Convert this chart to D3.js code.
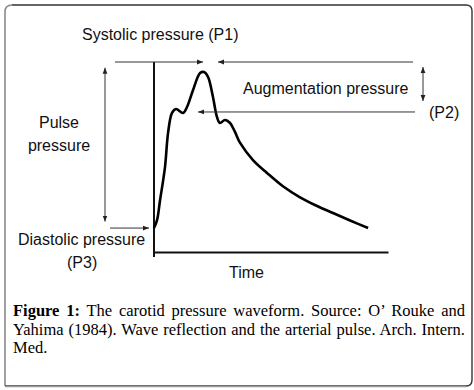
<!DOCTYPE html>
<html>
<head>
<meta charset="utf-8">
<script src="https://cdn.jsdelivr.net/npm/d3@7"></script>
<style>
  body { margin: 0; background: #fff; }
  #wrap { position: relative; width: 474px; height: 390px; }
  svg { position: absolute; left: 0; top: 0; }
  .lbl { font-family: "Liberation Sans", Arial, sans-serif; font-size: 16px; fill: #111; }
  #caption {
    position: absolute; left: 13px; top: 302px; width: 452px;
    font-family: "Liberation Serif", "Times New Roman", serif; font-size: 16.5px;
    line-height: 18.6px; color: #000;
  }
  #caption div { text-align: justify; text-align-last: justify; white-space: nowrap; }
  #caption div.last { text-align-last: left; }
</style>
</head>
<body>
<div id="wrap">
  <svg id="chart" width="474" height="390"></svg>
  <div id="caption"></div>
</div>
<script>
// waveform, time in arbitrary units, pressure in % of axis height
const time = [0, 1.3, 2.6, 4.7, 6.0, 7.7, 9.4, 12.4, 14.1, 16.7, 19.7, 21.4, 23.1, 25.2, 26.9,
  28.2, 30.3, 32.5, 34.6, 36.8, 42.3, 48.3, 55.1, 62.4, 69.7, 76.5, 83.8, 91.5];
const pressure = [12.6, 16.8, 27.4, 44.7, 62.6, 73.2, 75.3, 73.2, 76.3, 85.3, 94.2, 94.7, 92.1, 81.6, 71.1,
  67.9, 69.5, 67.9, 63.2, 57.4, 48.4, 41.6, 34.6, 28.8, 24.2, 20.5, 16.6, 12.6];

// reference levels (same units)
const systolic = 100;
const inflection = 73.7;
const diastolic = 12.6;
const pulseTop = 97;
const pulseBottom = 16;

const captionLines = [
  ["Figure 1:", " The carotid pressure waveform. Source: O\u2019 Rouke and"],
  ["", "Yahima (1984). Wave reflection and the arterial pulse. Arch. Intern."],
  ["", "Med."]
];

const svg = d3.select("#chart");

const x = d3.scaleLinear().domain([0, 100]).range([154, 388]);
const y = d3.scaleLinear().domain([0, 100]).range([252, 62]);

// panel border
svg.append("path")
  .attr("d", "M5,386 L5,12 Q5,5 12,5")
  .attr("fill", "none").attr("stroke", "#8a8a8a").attr("stroke-width", 1.6);
svg.append("path")
  .attr("d", "M12,5 L466,5 Q472,5 472,11 L472,380 Q472,386 466,386 L5,386")
  .attr("fill", "none").attr("stroke", "#333").attr("stroke-width", 1.4);
svg.append("path")
  .attr("d", "M5,386.5 L466,386.5")
  .attr("fill", "none").attr("stroke", "#999").attr("stroke-width", 1.6);

// arrow markers
const defs = svg.append("defs");
defs.append("marker")
  .attr("id", "head")
  .attr("viewBox", "0 0 10 10")
  .attr("refX", 10).attr("refY", 5)
  .attr("markerWidth", 6).attr("markerHeight", 6)
  .attr("markerUnits", "userSpaceOnUse")
  .attr("orient", "auto-start-reverse")
  .append("path").attr("d", "M0,1 L10,5 L0,9 Z").attr("fill", "#222");

// axes without ticks
svg.append("g")
  .attr("transform", `translate(${x(0)},0)`)
  .call(d3.axisLeft(y).tickValues([]).tickSizeOuter(0))
  .call(g => g.select(".domain").attr("stroke", "#111").attr("stroke-width", 2)
    .attr("d", `M0,${y(100)}V${y(-2.6)}`));
svg.append("g")
  .attr("transform", `translate(0,${y(0)})`)
  .call(d3.axisBottom(x).tickValues([]).tickSizeOuter(0))
  .call(g => g.select(".domain").attr("stroke", "#111").attr("stroke-width", 2));

// waveform
const line = d3.line()
  .x((d, i) => x(time[i]))
  .y(d => y(d))
  .curve(d3.curveCatmullRom.alpha(0.5));
svg.append("path")
  .datum(pressure)
  .attr("d", line)
  .attr("fill", "none")
  .attr("stroke", "#000")
  .attr("stroke-width", 2.6)
  .attr("stroke-linejoin", "round");

function arrow(x1, y1, x2, y2, both) {
  const p = svg.append("line")
    .attr("x1", x1).attr("y1", y1).attr("x2", x2).attr("y2", y2)
    .attr("stroke", "#333").attr("stroke-width", 1)
    .attr("marker-end", "url(#head)");
  if (both) p.attr("marker-start", "url(#head)");
}

// systolic arrows
arrow(115, y(systolic), 203, y(systolic));
arrow(413, y(systolic), 218, y(systolic));
// inflection arrow
arrow(415, y(inflection), 198, y(inflection));
// augmentation
arrow(423, 67, 423, 101, true);
// pulse pressure
arrow(105, y(pulseTop), 105, y(pulseBottom), true);
// diastolic
arrow(110, y(diastolic), 149, y(diastolic));

// labels
const labels = [
  { t: "Systolic pressure (P1)", x: 82, y: 40 },
  { t: "Augmentation pressure", x: 243, y: 94 },
  { t: "(P2)", x: 429, y: 118 },
  { t: "Pulse", x: 59, y: 128, a: "middle" },
  { t: "pressure", x: 59, y: 151, a: "middle" },
  { t: "Diastolic pressure", x: 18, y: 245 },
  { t: "(P3)", x: 67, y: 268 },
  { t: "Time", x: 229, y: 278 }
];
svg.selectAll("text.lbl")
  .data(labels)
  .join("text")
  .attr("class", "lbl")
  .attr("x", d => d.x)
  .attr("y", d => d.y)
  .attr("text-anchor", d => d.a || "start")
  .text(d => d.t);

// caption
const cap = d3.select("#caption");
captionLines.forEach((l, i) => {
  const div = cap.append("div").classed("last", i === captionLines.length - 1);
  if (l[0]) div.append("b").text(l[0]);
  div.append("span").text(l[1]);
});
</script>
</body>
</html>
